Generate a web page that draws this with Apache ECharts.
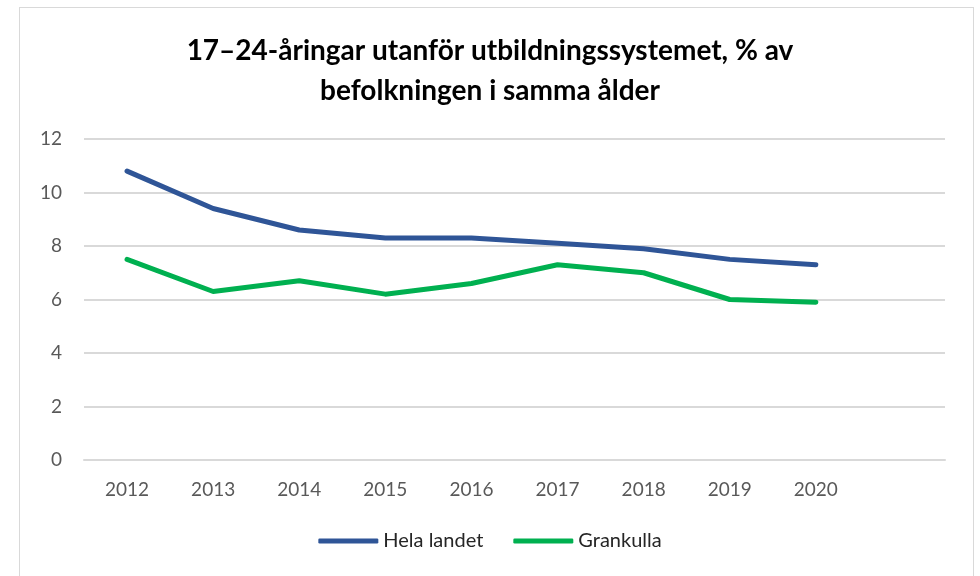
<!DOCTYPE html>
<html>
<head>
<meta charset="utf-8">
<script src="https://cdn.jsdelivr.net/npm/echarts@6/dist/echarts.min.js"></script>
<style>
  html, body { margin: 0; padding: 0; background: #fff; }
  #chart { width: 980px; height: 576px; }
  #frame { position: absolute; left: 19px; top: 7px; width: 953px; height: 580px; border: 1px solid #d9d9d9; pointer-events: none; }
</style>
</head>
<body>
<div id="chart"></div>
<div id="frame"></div>
<script>
// år, sista kategorin tom (tomt utrymme till höger som i originalet)
var years = ['2012', '2013', '2014', '2015', '2016', '2017', '2018', '2019', '2020', ''];
var helaLandet = [10.8, 9.4, 8.6, 8.3, 8.3, 8.1, 7.9, 7.5, 7.3, null];
var grankulla = [7.5, 6.3, 6.7, 6.2, 6.6, 7.3, 7.0, 6.0, 5.9, null];

var myChart = echarts.init(document.getElementById('chart'));
myChart.setOption({
    animation: false,
    color: ['#2f5597', '#00b050'],
    title: {
        text: '17–24-åringar utanför utbildningssystemet, % av\nbefolkningen i samma ålder',
        left: 'center',
        top: 26,
        textStyle: {
            fontFamily: 'Lato',
            fontWeight: 'bold',
            fontSize: 28,
            lineHeight: 40,
            color: '#000'
        }
    },
    legend: {
        bottom: 20,
        left: 'center',
        itemWidth: 60,
        itemHeight: 5,
        itemGap: 30,
        icon: 'roundRect',
        textStyle: { fontFamily: 'Lato', fontSize: 20, color: '#262626' },
        data: ['Hela landet', 'Grankulla']
    },
    grid: {
        left: 84,
        right: 35,
        top: 139,
        bottom: 116
    },
    xAxis: {
        type: 'category',
        data: years,
        boundaryGap: true,
        axisLine: { lineStyle: { color: '#d9d9d9', width: 2 } },
        axisTick: { show: false },
        axisLabel: { fontFamily: 'Lato', fontSize: 19, color: '#595959', margin: 20 }
    },
    yAxis: {
        type: 'value',
        min: 0,
        max: 12,
        interval: 2,
        axisLine: { show: false },
        axisTick: { show: false },
        axisLabel: { fontFamily: 'Lato', fontSize: 19, color: '#595959', margin: 22 },
        splitLine: { lineStyle: { color: '#d9d9d9', width: 2 } }
    },
    series: [
        {
            name: 'Hela landet',
            type: 'line',
            data: helaLandet,
            symbol: 'none',
            lineStyle: { width: 5, cap: 'round', join: 'round' }
        },
        {
            name: 'Grankulla',
            type: 'line',
            data: grankulla,
            symbol: 'none',
            lineStyle: { width: 5, cap: 'round', join: 'round' }
        }
    ]
});
</script>
</body>
</html>
